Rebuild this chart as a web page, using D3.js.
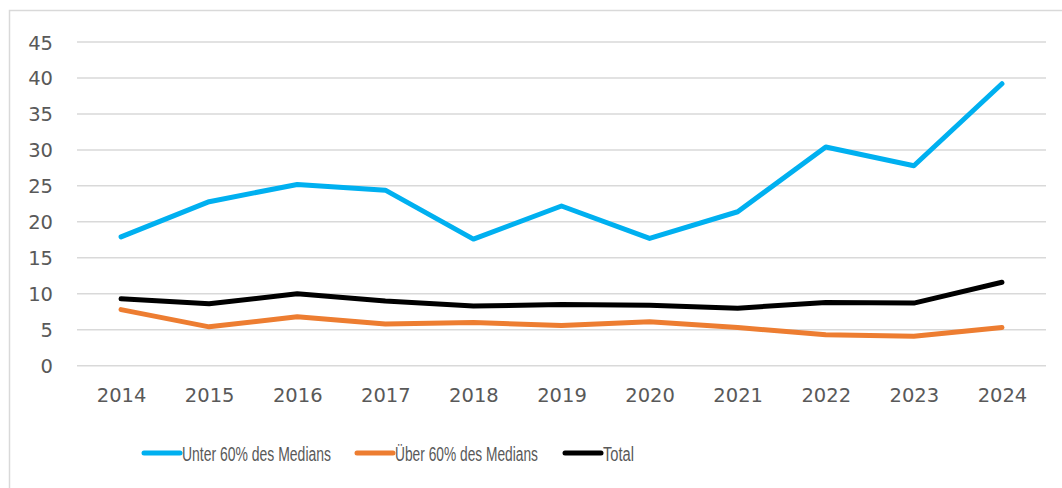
<!DOCTYPE html>
<html>
<head>
<meta charset="utf-8">
<script src="https://cdn.jsdelivr.net/npm/d3@7"></script>
<style>
  body { margin: 0; background: #fff; }
  svg { display: block; }
</style>
</head>
<body>
<svg id="chart" width="1062" height="488"></svg>
<script>
// years on the x axis
var years = ["2014","2015","2016","2017","2018","2019","2020","2021","2022","2023","2024"];

// series values
var unter = [17.9, 22.8, 25.2, 24.4, 17.6, 22.2, 17.7, 21.4, 30.4, 27.8, 39.2];
var ueber = [7.8, 5.4, 6.8, 5.8, 6.0, 5.6, 6.1, 5.3, 4.3, 4.1, 5.3];
var total = [9.3, 8.6, 10.0, 9.0, 8.3, 8.5, 8.4, 8.0, 8.8, 8.7, 11.6];

var seriesNames = ["Unter 60% des Medians", "Über 60% des Medians", "Total"];
var yTicks = [0, 5, 10, 15, 20, 25, 30, 35, 40, 45];

var colors = ["#00B0F0", "#ED7D31", "#000000"];
var svg = d3.select("#chart");

// outer frame (only left and top visible in the crop)
svg.append("path")
    .attr("d", "M9.5,488 L9.5,10.5 L1062,10.5")
    .attr("fill", "none")
    .attr("stroke", "#d9d9d9")
    .attr("stroke-width", 1.5);

var plot = {left: 77, right: 1046, top: 42, bottom: 365.7};

var xScale = d3.scalePoint()
    .domain(years)
    .range([plot.left, plot.right])
    .padding(0.5);

var yScale = d3.scaleLinear()
    .domain([0, 45])
    .range([plot.bottom, plot.top]);

// gridlines
svg.append("g")
    .selectAll("line")
    .data(yTicks)
    .enter()
    .append("line")
        .attr("x1", plot.left)
        .attr("x2", plot.right)
        .attr("y1", function(d){ return yScale(d); })
        .attr("y2", function(d){ return yScale(d); })
        .attr("stroke", "#d9d9d9")
        .attr("stroke-width", 1.5);

// y axis labels
var yAxis = d3.axisLeft(yScale)
    .tickValues(yTicks)
    .tickSize(0)
    .tickPadding(0);

svg.append("g")
    .attr("transform", "translate(53,0)")
    .call(yAxis)
    .call(function(g){ g.select(".domain").remove(); })
    .selectAll("text")
        .attr("fill", "#595959")
        .attr("dy", "0.36em")
        .style("font-family", "'DejaVu Sans', sans-serif")
        .style("font-size", "19.5px");

// x axis labels
var xAxis = d3.axisBottom(xScale)
    .tickSize(0)
    .tickPadding(0);

svg.append("g")
    .attr("transform", "translate(0,388)")
    .call(xAxis)
    .call(function(g){ g.select(".domain").remove(); })
    .selectAll("text")
        .attr("fill", "#595959")
        .attr("dy", "0.71em")
        .style("font-family", "'DejaVu Sans', sans-serif")
        .style("font-size", "19.5px");

// lines
var line = d3.line()
    .x(function(d, i){ return xScale(years[i]); })
    .y(function(d){ return yScale(d); });

var allSeries = [unter, ueber, total];

svg.append("g")
    .selectAll("path")
    .data(allSeries)
    .enter()
    .append("path")
        .attr("d", function(d){ return line(d); })
        .attr("fill", "none")
        .attr("stroke", function(d, i){ return colors[i]; })
        .attr("stroke-width", 5)
        .attr("stroke-linejoin", "round")
        .attr("stroke-linecap", "round");

// legend
var legendX = [144, 357, 565];
var legendWidth = [149, 143, 31];

var entries = svg.append("g")
    .selectAll("g")
    .data(seriesNames)
    .enter()
    .append("g")
        .attr("transform", function(d, i){ return "translate(" + legendX[i] + ",453)"; });

entries.append("line")
    .attr("x1", 0)
    .attr("x2", 36)
    .attr("y1", 0)
    .attr("y2", 0)
    .attr("stroke", function(d, i){ return colors[i]; })
    .attr("stroke-width", 5)
    .attr("stroke-linecap", "round");

entries.append("text")
    .text(function(d){ return d; })
    .attr("x", 38)
    .attr("y", 8)
    .attr("textLength", function(d, i){ return legendWidth[i]; })
    .attr("lengthAdjust", "spacingAndGlyphs")
    .attr("fill", "#595959")
    .style("font-family", "'Liberation Sans', sans-serif")
    .style("font-size", "19.5px");
</script>
</body>
</html>
